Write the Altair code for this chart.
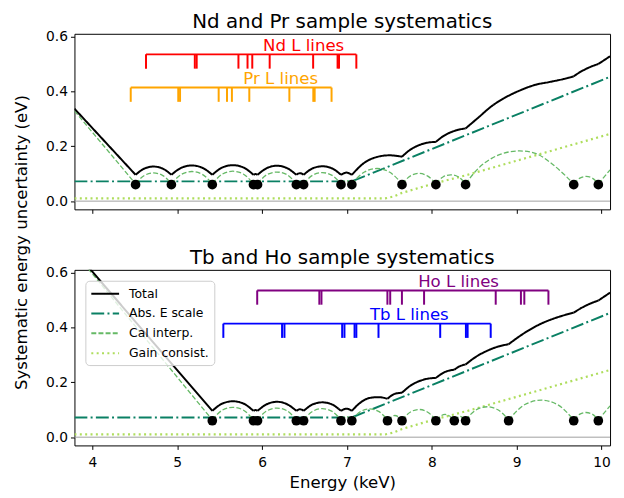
import altair as alt
import pandas as pd

# ---------------- data ----------------
X_DOMAIN = [3.79, 10.1]
Y_DOMAIN = [-0.03, 0.61]
X_TICKS = [4, 5, 6, 7, 8, 9, 10]
Y_TICKS = [0.0, 0.2, 0.4, 0.6]

SERIES = ["Total", "Abs. E scale", "Cal interp.", "Gain consist."]
SERIES_COLORS = ["#000000", "#0a8064", "#66b966", "#aedd5c"]
SERIES_DASH = [[1, 0], [13, 3.3, 2, 3.3], [5, 2.2], [2, 3.4]]

# calibration points (black dots)
top_cal_E = [4.510, 4.932, 5.414, 5.899, 5.947, 6.404, 6.490, 6.930, 7.058,
             7.649, 8.048, 8.398, 9.672, 9.962]
bot_cal_E = [5.414, 5.899, 5.947, 6.404, 6.490, 6.930, 7.058, 7.478, 7.649,
             8.048, 8.265, 8.398, 8.905, 9.672, 9.962]
cal_dot_y = 0.06

# absolute energy scale and gain consistency (same in both panels)
abs_E = [3.79, 7.058, 10.1]
abs_val = [0.072, 0.072, 0.453]
gain_E = [3.79, 7.45, 7.55, 7.65, 8.0, 8.4, 9.2, 10.1]
gain_val = [0.01, 0.01, 0.017, 0.03, 0.062, 0.094, 0.165, 0.245]

# top panel: cal interp + total, segment by segment
top_seg_E = [
    [3.79, 4.51],
    [4.51, 4.616, 4.721, 4.827, 4.932],
    [4.932, 5.053, 5.173, 5.294, 5.414],
    [5.414, 5.535, 5.657, 5.778, 5.899],
    [5.899, 5.923, 5.947],
    [5.947, 6.061, 6.176, 6.290, 6.404],
    [6.404, 6.447, 6.490],
    [6.490, 6.60, 6.71, 6.82, 6.930],
    [6.930, 6.994, 7.058],
    [7.058, 7.206, 7.354, 7.501, 7.649],
    [7.649, 7.749, 7.849, 7.948, 8.048],
    [8.048, 8.136, 8.223, 8.311, 8.398],
    [8.398, 8.55, 8.70, 8.85, 9.035, 9.22, 9.40, 9.55, 9.672],
    [9.672, 9.745, 9.817, 9.890, 9.962],
    [9.962, 10.1],
]
top_seg_cal = [
    [0.329, 0.063],
    [0.063, 0.094, 0.103, 0.094, 0.063],
    [0.063, 0.098, 0.108, 0.098, 0.063],
    [0.063, 0.099, 0.109, 0.099, 0.063],
    [0.063, 0.068, 0.063],
    [0.063, 0.097, 0.106, 0.097, 0.063],
    [0.063, 0.071, 0.063],
    [0.063, 0.095, 0.104, 0.095, 0.063],
    [0.063, 0.075, 0.063],
    [0.063, 0.106, 0.119, 0.106, 0.063],
    [0.063, 0.092, 0.101, 0.092, 0.063],
    [0.063, 0.089, 0.096, 0.089, 0.063],
    [0.063, 0.12, 0.155, 0.175, 0.183, 0.174, 0.14, 0.10, 0.063],
    [0.063, 0.084, 0.090, 0.084, 0.063],
    [0.063, 0.114],
]
top_seg_tot = [
    [0.337, 0.096],
    [0.096, 0.119, 0.126, 0.119, 0.096],
    [0.096, 0.122, 0.130, 0.122, 0.096],
    [0.096, 0.123, 0.131, 0.123, 0.096],
    [0.096, 0.099, 0.096],
    [0.096, 0.121, 0.129, 0.121, 0.096],
    [0.096, 0.102, 0.096],
    [0.096, 0.120, 0.127, 0.120, 0.096],
    [0.096, 0.104, 0.096],
    [0.096, 0.140, 0.161, 0.167, 0.162],
    [0.162, 0.188, 0.204, 0.213, 0.216],
    [0.216, 0.237, 0.251, 0.260, 0.265],
    [0.265, 0.305, 0.345, 0.375, 0.403, 0.424, 0.435, 0.445, 0.455],
    [0.455, 0.470, 0.482, 0.492, 0.500],
    [0.500, 0.528],
]

# bottom panel
bot_seg_E = [
    [3.79, 5.414],
    [5.414, 5.535, 5.657, 5.778, 5.899],
    [5.899, 5.923, 5.947],
    [5.947, 6.061, 6.176, 6.290, 6.404],
    [6.404, 6.447, 6.490],
    [6.490, 6.60, 6.71, 6.82, 6.930],
    [6.930, 6.994, 7.058],
    [7.058, 7.163, 7.268, 7.373, 7.478],
    [7.478, 7.564, 7.649],
    [7.649, 7.749, 7.849, 7.948, 8.048],
    [8.048, 8.157, 8.265],
    [8.265, 8.332, 8.398],
    [8.398, 8.525, 8.652, 8.778, 8.905],
    [8.905, 9.097, 9.289, 9.480, 9.672],
    [9.672, 9.745, 9.817, 9.890, 9.962],
    [9.962, 10.1],
]
bot_seg_cal = [
    [0.675, 0.063],
    [0.063, 0.099, 0.109, 0.099, 0.063],
    [0.063, 0.068, 0.063],
    [0.063, 0.097, 0.106, 0.097, 0.063],
    [0.063, 0.071, 0.063],
    [0.063, 0.095, 0.104, 0.095, 0.063],
    [0.063, 0.075, 0.063],
    [0.063, 0.094, 0.103, 0.094, 0.063],
    [0.063, 0.079, 0.063],
    [0.063, 0.092, 0.101, 0.092, 0.063],
    [0.063, 0.083, 0.063],
    [0.063, 0.076, 0.063],
    [0.063, 0.100, 0.111, 0.100, 0.063],
    [0.063, 0.119, 0.135, 0.119, 0.063],
    [0.063, 0.084, 0.090, 0.084, 0.063],
    [0.063, 0.114],
]
bot_seg_tot = [
    [0.679, 0.096],
    [0.096, 0.123, 0.131, 0.123, 0.096],
    [0.096, 0.099, 0.096],
    [0.096, 0.121, 0.129, 0.121, 0.096],
    [0.096, 0.102, 0.096],
    [0.096, 0.120, 0.127, 0.120, 0.096],
    [0.096, 0.104, 0.096],
    [0.096, 0.127, 0.143, 0.146, 0.140],
    [0.140, 0.158, 0.162],
    [0.162, 0.188, 0.204, 0.213, 0.216],
    [0.216, 0.238, 0.246],
    [0.246, 0.259, 0.265],
    [0.265, 0.294, 0.315, 0.330, 0.339],
    [0.339, 0.381, 0.414, 0.437, 0.454],
    [0.454, 0.468, 0.480, 0.490, 0.498],
    [0.498, 0.527],
]

# element L-line markers
nd_lines = [4.633, 5.208, 5.230, 5.722, 5.829, 5.885, 6.090, 6.602, 6.890, 6.907, 7.111]
pr_lines = [4.453, 5.013, 5.034, 5.489, 5.587, 5.645, 5.850, 6.322, 6.604, 6.620, 6.819]
ho_lines = [5.943, 6.675, 6.700, 7.477, 7.510, 7.648, 7.909, 8.753, 9.050, 9.090, 9.374]
tb_lines = [5.544, 6.236, 6.264, 6.944, 6.971, 7.090, 7.111, 7.372, 8.099, 8.402, 8.422, 8.694]

upper_level = 0.535
lower_level = 0.414
top_elements = [("Nd L lines", nd_lines, upper_level, "#ff0000", 6.49),
                ("Pr L lines", pr_lines, lower_level, "#ffa500", 6.22)]
bot_elements = [("Ho L lines", ho_lines, upper_level, "#800080", 8.315),
                ("Tb L lines", tb_lines, lower_level, "#0000ff", 7.735)]

# ---------------- styling ----------------
FONT = "DejaVu Sans"
TICK_LEN = 0.052
LABEL_RAISE = 0.03

xscale = alt.Scale(domain=X_DOMAIN, nice=False, zero=False)
yscale = alt.Scale(domain=Y_DOMAIN, nice=False, zero=False)
cscale = alt.Scale(domain=SERIES, range=SERIES_COLORS)
dscale = alt.Scale(domain=SERIES, range=SERIES_DASH)


def build_panel(title, seg_E, seg_cal, seg_tot, cal_E, elements, bottom):
    xaxis = alt.Axis(values=X_TICKS, format="d", labels=bottom,
                     title="Energy (keV)" if bottom else None,
                     ticks=True, tickSize=4, labelFontSize=13.9,
                     titleFontSize=16.7, titlePadding=6, labelPadding=6)
    if not bottom:
        # shared y label, centred between the two panels
        yaxis = alt.Axis(values=Y_TICKS, format=".1f", tickSize=4,
                         labelFontSize=13.9, labelPadding=3,
                         title="Systematic energy uncertainty (eV)",
                         titleFontSize=16.7, titleX=-53, titleY=210,
                         titleBaseline="middle", titleAlign="center")
    else:
        yaxis = alt.Axis(values=Y_TICKS, format=".1f", tickSize=4,
                         labelFontSize=13.9, labelPadding=3, title=None)

    X = alt.X("E:Q", scale=xscale, axis=xaxis)
    Y = alt.Y("v:Q", scale=yscale, axis=yaxis)

    if bottom:
        leg = alt.Legend(title=None, orient="none", legendX=11, legendY=11,
                         symbolType="M-1,0H3", symbolSize=196,
                         symbolStrokeWidth=2, labelFontSize=12.5,
                         labelFont=FONT, labelColor="black",
                         fillColor="rgba(255,255,255,0.8)",
                         strokeColor="#cccccc", cornerRadius=4,
                         padding=5, rowPadding=5, labelOffset=23)
    else:
        leg = None
    C = alt.Color("series:N", scale=cscale, legend=leg)
    D = alt.StrokeDash("series:N", scale=dscale, legend=leg)

    # curve data
    cal_rows, tot_rows = [], []
    for i, (es, cs, ts) in enumerate(zip(seg_E, seg_cal, seg_tot)):
        for e, c, t in zip(es, cs, ts):
            cal_rows.append({"E": e, "v": c, "series": "Cal interp.", "seg": i})
            tot_rows.append({"E": e, "v": t, "series": "Total", "seg": i})
    cal_df = pd.DataFrame(cal_rows)
    tot_df = pd.DataFrame(tot_rows)
    abs_df = pd.DataFrame({"E": abs_E, "v": abs_val, "series": "Abs. E scale"})
    gain_df = pd.DataFrame({"E": gain_E, "v": gain_val, "series": "Gain consist."})
    dots_df = pd.DataFrame({"E": cal_E, "v": [cal_dot_y] * len(cal_E)})

    # element markers
    hrows, trows, lrows = [], [], []
    for name, lines, lvl, col, lx in elements:
        hrows.append({"E": min(lines), "E2": max(lines), "v": lvl, "color": col})
        for e in lines:
            trows.append({"E": e, "v": lvl, "v2": lvl - TICK_LEN, "color": col})
        lrows.append({"E": lx, "v": lvl + LABEL_RAISE, "text": name, "color": col})
    h_df = pd.DataFrame(hrows)
    t_df = pd.DataFrame(trows)
    l_df = pd.DataFrame(lrows)

    zero = alt.Chart(pd.DataFrame({"E": [X_DOMAIN[0]], "E2": [X_DOMAIN[1]], "v": [0.0]})).mark_rule(
        color="#a0a0a0", strokeWidth=1).encode(x=X, x2="E2:Q", y=Y)

    hline = alt.Chart(h_df).mark_rule(strokeWidth=2).encode(
        x=X, x2="E2:Q", y=Y, color=alt.Color("color:N", scale=None))
    ticks = alt.Chart(t_df).mark_rule(strokeWidth=2).encode(
        x=X, y=Y, y2="v2:Q", color=alt.Color("color:N", scale=None))
    labels = alt.Chart(l_df).mark_text(font=FONT, fontSize=16.7, align="center",
                                       baseline="middle").encode(
        x=X, y=Y, text="text:N", color=alt.Color("color:N", scale=None))

    gain = alt.Chart(gain_df).mark_line(strokeWidth=2.2, clip=True).encode(
        x=X, y=Y, color=C, strokeDash=D)
    absl = alt.Chart(abs_df).mark_line(strokeWidth=2, clip=True).encode(
        x=X, y=Y, color=C, strokeDash=D)
    cal = alt.Chart(cal_df).mark_line(strokeWidth=1.3, interpolate="monotone", clip=True).encode(
        x=X, y=Y, color=C, strokeDash=D, detail="seg:N")
    tot = alt.Chart(tot_df).mark_line(strokeWidth=2, interpolate="monotone", clip=True).encode(
        x=X, y=Y, color=C, strokeDash=D, detail="seg:N")
    dots = alt.Chart(dots_df).mark_circle(size=95, color="black", opacity=1).encode(x=X, y=Y)

    return alt.layer(zero, hline, ticks, labels, gain, absl, cal, tot, dots).properties(
        width=540, height=177,
        title=alt.TitleParams(title, fontSize=20, font=FONT, fontWeight="normal",
                              anchor="middle", frame="group", offset=-2,
                              color="black"))


top = build_panel("Nd and Pr sample systematics", top_seg_E, top_seg_cal, top_seg_tot,
                  top_cal_E, top_elements, bottom=False)
bot = build_panel("Tb and Ho sample systematics", bot_seg_E, bot_seg_cal, bot_seg_tot,
                  bot_cal_E, bot_elements, bottom=True)

chart = alt.vconcat(top, bot, spacing=61, bounds="flush").resolve_scale(
    color="independent", strokeDash="independent").resolve_legend(
    color="independent", strokeDash="independent").properties(
    padding={"left": 5, "right": 5, "top": 1, "bottom": 2}).configure_view(
    stroke="black", strokeWidth=1).configure_axis(
    grid=False, domain=False, labelFont=FONT, titleFont=FONT,
    labelColor="black", titleColor="black", tickColor="black",
    titleFontWeight="normal", tickWidth=1).configure_legend(
    labelFontSize=12.5, labelFont=FONT)

chart.save("out.html", embed_options={"renderer": "svg", "actions": False})
